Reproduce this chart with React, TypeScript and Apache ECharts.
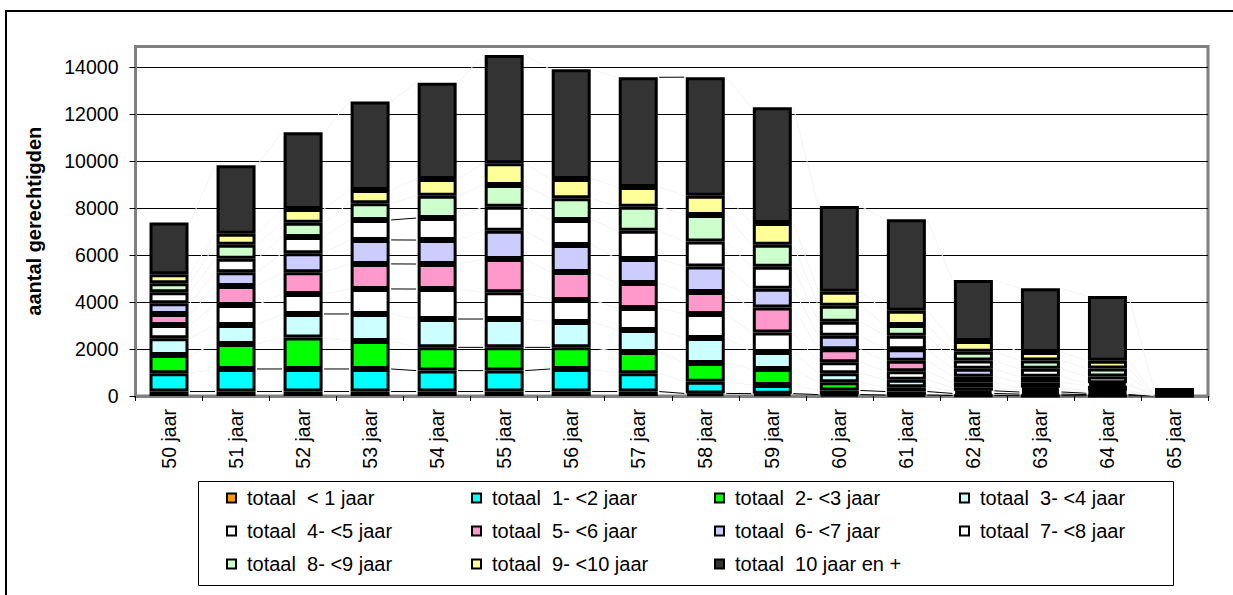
import React, { useEffect, useRef } from 'react';
import * as echarts from 'echarts';

const categories = ['50 jaar', '51 jaar', '52 jaar', '53 jaar', '54 jaar', '55 jaar', '56 jaar', '57 jaar',
  '58 jaar', '59 jaar', '60 jaar', '61 jaar', '62 jaar', '63 jaar', '64 jaar', '65 jaar'];

const seriesNames = [
  'totaal  < 1 jaar', 'totaal  1- <2 jaar', 'totaal  2- <3 jaar', 'totaal  3- <4 jaar',
  'totaal  4- <5 jaar', 'totaal  5- <6 jaar', 'totaal  6- <7 jaar', 'totaal  7- <8 jaar',
  'totaal  8- <9 jaar', 'totaal  9- <10 jaar', 'totaal  10 jaar en +',
];

const seriesColors = ['#FF9900', '#00FFFF', '#00FF00', '#CCFFFF', '#FFFFFF', '#FF99CC',
  '#CCCCFF', '#FFFFFF', '#CCFFCC', '#FFFF99', '#333333'];

const lt1 = [190, 190, 190, 190, 190, 190, 190, 190, 110, 100, 60, 40, 20, 10, 10, 5];
const y1to2 = [775, 960, 960, 960, 890, 890, 960, 775, 500, 370, 175, 150, 90, 70, 50, 10];
const y2to3 = [780, 1065, 1335, 1190, 990, 990, 920, 905, 795, 680, 345, 185, 110, 90, 60, 10];
const y3to4 = [710, 810, 1005, 1150, 1205, 1205, 1080, 935, 1065, 725, 385, 320, 135, 90, 50, 10];
const y4to5 = [565, 850, 850, 1065, 1275, 1135, 935, 940, 1020, 825, 470, 355, 225, 95, 55, 10];
const y5to6 = [470, 810, 920, 1065, 1065, 1420, 1190, 1065, 935, 1065, 550, 455, 240, 225, 215, 10];
const y6to7 = [455, 580, 810, 1020, 1020, 1205, 1150, 1020, 1080, 795, 580, 480, 340, 240, 100, 10];
const y7to8 = [470, 570, 695, 850, 935, 1020, 1065, 1205, 1065, 935, 595, 580, 355, 340, 285, 10];
const y8to9 = [385, 595, 610, 710, 950, 920, 920, 1020, 1135, 935, 680, 455, 370, 355, 340, 10];
const y9to10 = [385, 470, 580, 565, 710, 925, 825, 840, 810, 935, 595, 610, 455, 355, 340, 10];
const y10plus = [2200, 2920, 3265, 3760, 4100, 4610, 4665, 4665, 5050, 4920, 3645, 3885, 2595, 2710, 2750, 250];

const yTickMax = 14870;
const yTickInterval = 2000;

const seriesValues = [lt1, y1to2, y2to3, y3to4, y4to5, y5to6, y6to7, y7to8, y8to9, y9to10, y10plus];

const FONT = "'Liberation Sans', Arial, sans-serif";
const BAR_WIDTH = 39;
const BAR_BORDER = 3;

export default function App() {
  const ref = useRef<HTMLDivElement>(null);

  useEffect(() => {
    const chart = echarts.init(ref.current as HTMLDivElement, null, { renderer: 'svg' });

    const cumulative: number[][] = categories.map((_, i) => {
      let s = 0;
      return seriesValues.map((arr) => (s += arr[i]));
    });

    const barSeries = seriesNames.map((name, k) => ({
      name,
      type: 'bar',
      stack: 'total',
      barWidth: BAR_WIDTH,
      data: seriesValues[k],
      itemStyle: { color: seriesColors[k], borderColor: '#000', borderWidth: BAR_BORDER },
      emphasis: { disabled: true },
      silent: true,
    }));

    const half = BAR_WIDTH / 2 + BAR_BORDER / 2;
    const seriesLines = {
      type: 'custom',
      silent: true,
      z: 1,
      data: categories.slice(0, categories.length - 1).map((_, i) => [i, 0]),
      encode: { x: 0, y: 1 },
      renderItem: (params: any, api: any) => {
        const i = api.value(0);
        const children: any[] = [];
        for (let k = 0; k < seriesNames.length; k++) {
          const a = api.coord([i, cumulative[i][k]]);
          const b = api.coord([i + 1, cumulative[i + 1][k]]);
          const flat = Math.abs(a[1] - b[1]) <= 2;
          children.push({
            type: 'line',
            shape: { x1: a[0] + half, y1: a[1], x2: b[0] - half, y2: b[1] },
            style: { stroke: flat ? '#000' : '#f4f4f4', lineWidth: 1 },
          });
        }
        return { type: 'group', children };
      },
    };

    const colLefts = [226, 471, 714, 959];
    const legends = colLefts.map((left, c) => ({
      orient: 'vertical',
      left,
      top: 488,
      padding: 0,
      itemGap: 13,
      itemWidth: 9,
      itemHeight: 9,
      icon: 'rect',
      selectedMode: false,
      itemStyle: { borderColor: '#000', borderWidth: 2 },
      textStyle: { fontFamily: FONT, fontSize: 20, lineHeight: 20, color: '#000', padding: [0, 0, 0, 6] },
      data: seriesNames.filter((_, k) => k % 4 === c),
    }));

    const option: any = {
      animation: false,
      backgroundColor: '#fff',
      textStyle: { fontFamily: FONT },
      legend: legends,
      grid: {
        left: 135.5,
        right: 25,
        top: 46.5,
        bottom: 199,
        show: true,
        borderColor: '#808080',
        borderWidth: 3,
        backgroundColor: 'transparent',
      },
      xAxis: {
        type: 'category',
        data: categories,
        axisLine: { lineStyle: { color: '#808080', width: 3 } },
        axisTick: { show: true, length: 5, lineStyle: { color: '#000', width: 1 } },
        axisLabel: {
          rotate: 90,
          interval: 0,
          margin: 13,
          fontFamily: FONT,
          fontSize: 19.5,
          color: '#000',
        },
      },
      yAxis: {
        type: 'value',
        min: 0,
        max: yTickMax,
        interval: yTickInterval,
        name: 'aantal gerechtigden',
        nameLocation: 'middle',
        nameRotate: 90,
        nameGap: 92,
        nameTextStyle: { fontFamily: FONT, fontSize: 20, fontWeight: 'bold', color: '#000' },
        axisLine: { show: true, lineStyle: { color: '#808080', width: 3 } },
        axisTick: { show: true, length: 6, lineStyle: { color: '#000', width: 1 } },
        axisLabel: {
          margin: 17,
          fontFamily: FONT,
          fontSize: 19.5,
          color: '#000',
          showMaxLabel: false,
          formatter: (v: number) => String(v),
        },
        splitLine: { show: true, showMaxLine: false, lineStyle: { color: '#000', width: 1 } },
      },
      graphic: [
        {
          type: 'rect',
          z: 100,
          silent: true,
          shape: { x: 6, y: 11, width: 1240, height: 600 },
          style: { fill: 'none', stroke: '#000', lineWidth: 2 },
        },
        {
          type: 'rect',
          z: 100,
          silent: true,
          shape: { x: 198.5, y: 481.5, width: 975, height: 104 },
          style: { fill: 'none', stroke: '#000', lineWidth: 1 },
        },
      ],
      series: [...barSeries, seriesLines],
    };

    chart.setOption(option);
    return () => chart.dispose();
  }, []);

  return (
    <div
      ref={ref}
      style={{ position: 'fixed', left: 0, top: 0, width: 1233, height: 595, background: '#fff' }}
    />
  );
}
